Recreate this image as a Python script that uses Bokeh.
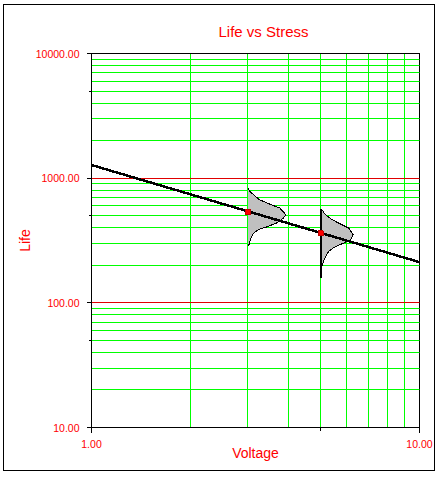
from bokeh.plotting import figure
from bokeh.models import Range1d, FixedTicker, Grid, NumeralTickFormatter, InlineStyleSheet
from bokeh.embed import file_html
from bokeh.resources import INLINE

# ---- data ----
line_voltage = [1.0, 10.0]
line_life = [1275.0, 212.0]

point_voltage = [3.0, 5.0]
point_life = [537.0, 360.0]

# stress-level pdf outlines (voltage, life)
pdf1_voltage = [3.00, 3.02, 3.10, 3.25, 3.49, 3.75, 3.88, 3.91, 3.83, 3.66, 3.41, 3.22, 3.10, 3.05, 3.02, 3.00]
pdf1_life = [840, 800, 747, 673, 620, 576, 525, 505, 473, 436, 405, 386, 355, 320, 292, 285]

pdf2_voltage = [5.00, 5.04, 5.16, 5.41, 5.80, 6.09, 6.28, 6.16, 5.87, 5.54, 5.28, 5.14, 5.07, 5.01, 5.00]
pdf2_life = [565, 559, 510, 465, 423, 397, 352, 320, 301, 283, 258, 228, 207, 189, 180]
pdf2_base_voltage = [5.0, 5.0]
pdf2_base_life = [570, 157]

x_ticks = [1, 10]
x_tick_labels = ["1.00", "10.00"]
x_minor_ticks = [5]
y_ticks = [10, 100, 1000, 10000]
y_tick_labels = ["10.00", "100.00", "1000.00", "10000.00"]
y_minor_ticks = [50, 500, 5000]

x_grid_green = [2, 3, 4, 5, 6, 7, 8, 9]
y_grid_green = [20, 30, 40, 50, 60, 70, 80, 90,
                200, 300, 400, 500, 600, 700, 800, 900,
                2000, 3000, 4000, 5000, 6000, 7000, 8000, 9000]
y_grid_red = [100, 1000]

RED = "#FF0000"
GREEN = "#00FF00"
FONT = "Liberation Sans"

p = figure(width=432, height=467, x_axis_type="log", y_axis_type="log",
           x_range=Range1d(1, 10), y_range=Range1d(10, 10000),
           output_backend="svg", toolbar_location=None,
           min_border_left=87, min_border_right=17, min_border_top=48, min_border_bottom=45,
           background_fill_color="white", border_fill_color="white",
           styles={"border": "1px solid black", "margin-left": "3px", "margin-top": "4px",
                   "shape-rendering": "crispEdges"})
p.stylesheets = [InlineStyleSheet(css="svg, svg * { shape-rendering: crispEdges; }")]

p.outline_line_color = "black"
p.outline_line_width = 1

p.title.text = "Life vs Stress"
p.title.text_color = RED
p.title.text_font = FONT
p.title.text_font_size = "15px"
p.title.text_font_style = "normal"
p.title.align = "left"
p.title.offset = 127
p.title.standoff = 27

p.xgrid.visible = False
p.ygrid.visible = False
p.add_layout(Grid(dimension=0, ticker=FixedTicker(ticks=x_grid_green), grid_line_color=GREEN, grid_line_width=1))
p.add_layout(Grid(dimension=1, ticker=FixedTicker(ticks=y_grid_green), grid_line_color=GREEN, grid_line_width=1))
p.add_layout(Grid(dimension=1, ticker=FixedTicker(ticks=y_grid_red), grid_line_color="#E00000", grid_line_width=1))

for ax, ticks, minor, labels, lab in ((p.xaxis[0], x_ticks, x_minor_ticks, x_tick_labels, "Voltage"),
                                      (p.yaxis[0], y_ticks, y_minor_ticks, y_tick_labels, "Life")):
    ax.ticker = FixedTicker(ticks=ticks, minor_ticks=minor)
    ax.formatter = NumeralTickFormatter(format="0.00")
    ax.major_label_overrides = {t: s for t, s in zip(ticks, labels)}
    ax.axis_label = lab
    ax.axis_label_text_color = RED
    ax.axis_label_text_font = FONT
    ax.axis_label_text_font_size = "14px"
    ax.axis_label_text_font_style = "normal"
    ax.major_label_text_color = RED
    ax.major_label_text_font = FONT
    ax.major_label_text_font_size = "10.5px"
    ax.axis_line_color = "black"
    ax.major_tick_line_color = "black"
    ax.minor_tick_line_color = "black"
    ax.major_tick_out = 5
    ax.major_tick_in = 0
    ax.minor_tick_out = 3
    ax.minor_tick_in = 0

p.xaxis.major_label_standoff = 7
p.xaxis.axis_label_standoff = -6
p.yaxis.major_label_standoff = 7
p.yaxis.axis_label_standoff = 0

# pdfs
p.patch(pdf1_voltage, pdf1_life, fill_color="#C0C0C0", line_color=None)
p.line(pdf1_voltage, pdf1_life, line_color="black", line_width=1)
p.patch(pdf2_voltage, pdf2_life, fill_color="#C0C0C0", line_color=None)
p.line(pdf2_voltage, pdf2_life, line_color="black", line_width=1)
p.line(pdf2_base_voltage, pdf2_base_life, line_color="black", line_width=1.5)

# life line and points
p.line(line_voltage, line_life, line_color="black", line_width=2.5)
p.scatter(point_voltage, point_life, marker="square", size=5, fill_color=RED, line_color="#C00000")

open("out.html", "w").write(file_html(p, INLINE))
